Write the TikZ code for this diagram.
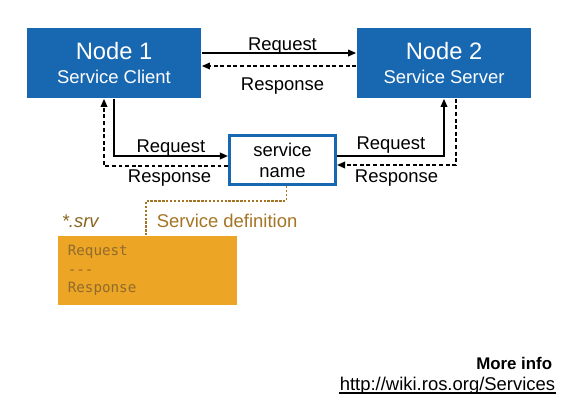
\documentclass[tikz,border=0pt]{standalone}
\usepackage{fontspec}
\setmainfont{Liberation Sans}
\setmonofont{DejaVu Sans Mono}
\usetikzlibrary{arrows.meta}
\definecolor{rosblue}{HTML}{1767B1}
\definecolor{srvorange}{HTML}{EDA526}
\definecolor{srvbrown}{HTML}{A47424}
\definecolor{srvtext}{HTML}{8F6B2C}
\definecolor{srvdark}{HTML}{8A6420}

\begin{document}
\begin{tikzpicture}[every path/.style={line width=0.055cm},
  every node/.style={inner sep=0, font=\fontsize{17.5}{21}\selectfont},
  rosnode/.style={fill=rosblue, text=white, minimum width=5.8cm, minimum height=2.333cm, align=center},
  req/.style={-{Triangle[length=0.27cm,width=0.22cm]}},
  res/.style={req, dash pattern=on 0.13cm off 0.09cm}]
  \useasboundingbox (0,0) rectangle (19,13.7);

  \node (n1) at (3.8,11.6)[rosnode]{{\fontsize{22.5}{24}\selectfont Node 1}\\[0.09cm]Service Client};
  \node (n2) at (14.8,11.6)[rosnode]{{\fontsize{22.5}{24}\selectfont Node 2}\\[0.09cm]Service Server};
  \node (sv) at (9.417,8.367)[draw=rosblue, line width=0.1cm, minimum width=3.533cm, minimum height=1.633cm,
    align=center, font=\fontsize{17.5}{19.8}\selectfont]{service\\name};

  % node 1 <-> node 2
  \draw[req] ([yshift=0.333cm]n1.east) -- ([yshift=0.333cm]n2.west);
  \draw[res] ([yshift=-0.1cm]n2.west) -- ([yshift=-0.1cm]n1.east);
  \node (q1) at (9.417,12.033)[anchor=base]{Request};
  \node (r1) at (9.417,10.7)[anchor=base]{Response};

  % node 1 <-> service
  \draw[req] (n1.south) |- ([yshift=0.133cm]sv.west);
  \draw[res] ([yshift=-0.2cm]sv.west) -| ([xshift=-0.333cm]n1.south);
  \node (q2) at (5.7,8.633)[anchor=base]{Request};
  \node (r2) at (5.65,7.633)[anchor=base]{Response};

  % service <-> node 2
  \draw[req] ([yshift=0.133cm]sv.east) -| (n2.south);
  \draw[res] ([xshift=0.4cm]n2.south) |- ([yshift=-0.167cm]sv.east);
  \node (q3) at (13.033,8.733)[anchor=base]{Request};
  \node (r3) at (13.217,7.633)[anchor=base]{Response};

  % service definition
  \node (def) at (1.9,5.867)[anchor=north west, fill=srvorange, minimum width=5.967cm, minimum height=2.3cm,
    text width=5.3cm, inner xsep=0.333cm, align=left, text=srvtext,
    font=\ttfamily\fontsize{13.5}{17.5}\selectfont]{Request\\\mbox{-}\mbox{-}\mbox{-}\\Response};
  \coordinate (c1) at (4.867,7.0);
  \draw[srvbrown, line width=0.035cm, dash pattern=on 0.08cm off 0.05cm]
    ([xshift=0.117cm]sv.south) |- (c1) -- (c1 |- def.north);
  \node (ext) at (2.033,6.133)[anchor=base west, text=srvdark, font=\itshape\fontsize{17.5}{21}\selectfont]{*.srv};
  \node (deftxt) at (5.2,6.133)[anchor=base west, text=srvbrown]{Service definition};

  %\node (more) at (18.5,1.4)[anchor=base east]{More info};
  \node (more) at (18.433,1.367)[anchor=base east, font=\bfseries\fontsize{16}{19}\selectfont]{More info};
  \node (url) at (18.533,0.7)[anchor=base east]{http://wiki.ros.org/Services};
  \draw[line width=0.045cm] ([yshift=-0.1cm]url.base west) -- ([yshift=-0.1cm]url.base east);

\end{tikzpicture}
\end{document}
